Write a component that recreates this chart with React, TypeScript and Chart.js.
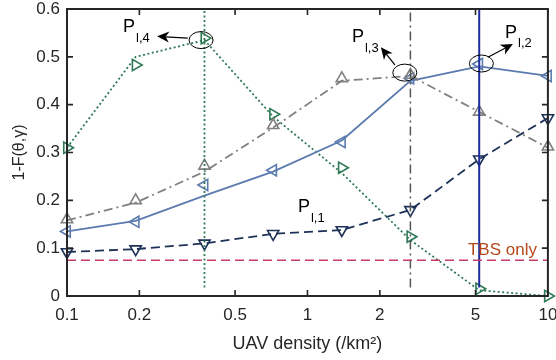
import React, { useEffect, useRef } from "react";
import { Chart, registerables } from "chart.js";
Chart.register(...registerables);

// ---------- data ----------
const densities = [0.1, 0.193, 0.373, 0.72, 1.39, 2.68, 5.18, 10];
const xTickValues = [0.1, 0.2, 0.5, 1, 2, 5, 10];
const yTickValues = [0, 0.1, 0.2, 0.3, 0.4, 0.5, 0.6];

const pl1Values = [0.092, 0.098, 0.11, 0.13, 0.138, 0.18, 0.286, 0.372];
const pl2Line = [0.135, 0.157, 0.21, 0.26, 0.325, 0.45, 0.48, 0.46];
const pl2Marks = [0.135, 0.155, 0.232, 0.263, 0.322, 0.455, 0.485, 0.46];
const pl3Line = [0.158, 0.195, 0.26, 0.352, 0.45, 0.46, 0.385, 0.31];
const pl3Marks = [0.16, 0.2, 0.272, 0.357, 0.455, 0.462, 0.385, 0.312];
const pl4Line = [0.31, 0.5, 0.535, 0.375, 0.257, 0.117, 0.012, 0.0];
const pl4Marks = [0.31, 0.483, 0.539, 0.38, 0.268, 0.124, 0.015, 0.0];

const tbsOnlyLevel = 0.075;
const optimumX = [0.373, 2.68, 5.18]; // green, gray, navy vertical lines
const optimumRange = [0.018, 0.6];

// annotation anchors (data coordinates)
const ellipseCenters = [
  { x: 0.361, y: 0.535 },
  { x: 2.54, y: 0.467 },
  { x: 5.29, y: 0.486 },
];
const arrowFrom = [
  { x: 0.318, y: 0.539 },
  { x: 2.31, y: 0.483 },
  { x: 5.63, y: 0.499 },
];
const arrowTo = [
  { x: 0.237, y: 0.543 },
  { x: 2.02, y: 0.52 },
  { x: 7.15, y: 0.527 },
];
const labelSubs = ["l,4", "l,3", "l,2", "l,1"];
const labelAnchors = [
  { x: 0.171, y: 0.562 },
  { x: 1.531, y: 0.541 },
  { x: 6.63, y: 0.55 },
  { x: 0.913, y: 0.186 },
];
const tbsText = "TBS only";
const tbsAnchor = { x: 4.65, y: 0.096 };

// ---------- styles ----------
const FONT = "'Liberation Sans', Arial, Helvetica, sans-serif";
const AXIS = "#262626";
const GREEN = "#2F7A55";
const GRAY = "#808080";
const GRAY_DARK = "#555555";
const BLUE = "#5B7AAE";
const NAVY = "#1E3158";
const NAVY_V = "#1C2C9C";
const RED = "#C83C64";
const BROWN = "#B5471B";

const pts = (ys: number[]) => densities.map((d, i) => ({ x: d, y: ys[i] }));

const lineDs = (ys: number[], color: string, dash: number[]) => ({
  data: pts(ys),
  borderColor: color,
  borderWidth: 1.8,
  borderDash: dash,
  pointRadius: 0,
  fill: false,
  tension: 0,
  clip: false as any,
});

const markDs = (ys: number[], color: string, rot: number) => ({
  data: pts(ys),
  showLine: false,
  pointStyle: "triangle",
  pointRotation: rot,
  pointRadius: 6.5,
  pointBorderColor: color,
  pointBackgroundColor: "rgba(0,0,0,0)",
  pointBorderWidth: 1.6,
  borderColor: color,
  clip: false as any,
});

const annotPlugin = {
  id: "annot",
  afterDatasetsDraw(chart: any) {
    const { ctx, scales } = chart;
    const xs = scales.x;
    const ys = scales.y;
    const px = (v: number) => xs.getPixelForValue(v);
    const py = (v: number) => ys.getPixelForValue(v);
    ctx.save();
    ctx.strokeStyle = "#000";
    ctx.lineWidth = 1;
    ellipseCenters.forEach((e) => {
      ctx.beginPath();
      ctx.ellipse(px(e.x), py(e.y), 12, 8.5, 0, 0, Math.PI * 2);
      ctx.stroke();
    });
    arrowFrom.forEach((f, i) => {
      const t = arrowTo[i];
      const x0 = px(f.x), y0 = py(f.y), x1 = px(t.x), y1 = py(t.y);
      const ang = Math.atan2(y1 - y0, x1 - x0);
      const L = 12, W = 5.5, N = 3.5;
      const bx = x1 - L * Math.cos(ang), by = y1 - L * Math.sin(ang);
      ctx.beginPath();
      ctx.moveTo(x0, y0);
      ctx.lineTo(x1 - (L - N) * Math.cos(ang), y1 - (L - N) * Math.sin(ang));
      ctx.strokeStyle = "#000";
      ctx.lineWidth = 1.2;
      ctx.stroke();
      ctx.beginPath();
      ctx.moveTo(x1, y1);
      ctx.lineTo(bx + W * Math.sin(ang), by - W * Math.cos(ang));
      ctx.lineTo(x1 - (L - N) * Math.cos(ang), y1 - (L - N) * Math.sin(ang));
      ctx.lineTo(bx - W * Math.sin(ang), by + W * Math.cos(ang));
      ctx.closePath();
      ctx.fillStyle = "#000";
      ctx.fill();
    });
    ctx.fillStyle = "#000";
    ctx.textBaseline = "middle";
    ctx.textAlign = "left";
    labelAnchors.forEach((a, i) => {
      const x = px(a.x), y = py(a.y);
      ctx.font = `18px ${FONT}`;
      ctx.fillText("P", x, y);
      const w = ctx.measureText("P").width;
      ctx.font = `13px ${FONT}`;
      ctx.fillText(labelSubs[i], x + w + 1, y + 11);
    });
    ctx.font = `17px ${FONT}`;
    ctx.fillStyle = BROWN;
    ctx.fillText(tbsText, px(tbsAnchor.x), py(tbsAnchor.y));
    ctx.restore();
  },
  afterDraw(chart: any) {
    const { ctx, chartArea, scales } = chart;
    const { left, right, top, bottom } = chartArea;
    const T = 6;
    ctx.save();
    ctx.strokeStyle = AXIS;
    ctx.lineWidth = 1.6;
    ctx.beginPath();
    xTickValues.forEach((v) => {
      const x = scales.x.getPixelForValue(v);
      ctx.moveTo(x, bottom);
      ctx.lineTo(x, bottom - T);
      ctx.moveTo(x, top);
      ctx.lineTo(x, top + T);
    });
    yTickValues.forEach((v) => {
      const y = scales.y.getPixelForValue(v);
      ctx.moveTo(left, y);
      ctx.lineTo(left + T, y);
      ctx.moveTo(right, y);
      ctx.lineTo(right - T, y);
    });
    ctx.stroke();
    ctx.lineWidth = 2;
    ctx.strokeRect(left, top, right - left, bottom - top);
    ctx.restore();
  },
};

export default function App() {
  const ref = useRef<HTMLCanvasElement | null>(null);
  useEffect(() => {
    if (!ref.current) return;
    const vLine = (xv: number, color: string, dash: number[], width: number) => ({
      data: [
        { x: xv, y: optimumRange[0] },
        { x: xv, y: optimumRange[1] },
      ],
      borderColor: color,
      borderWidth: width,
      borderDash: dash,
      pointRadius: 0,
      fill: false,
      clip: false as any,
    });
    const chart = new Chart(ref.current, {
      type: "line",
      data: {
        datasets: [
          {
            data: [
              { x: xTickValues[0], y: tbsOnlyLevel },
              { x: xTickValues[xTickValues.length - 1], y: tbsOnlyLevel },
            ],
            borderColor: RED,
            borderWidth: 1.5,
            borderDash: [9, 5],
            pointRadius: 0,
            fill: false,
          },
          vLine(optimumX[0], GREEN, [2, 2.5], 1.8),
          vLine(optimumX[1], GRAY_DARK, [9, 4, 2, 4], 1.5),
          vLine(optimumX[2], NAVY_V, [], 2),
          lineDs(pl1Values, NAVY, [9, 5]),
          markDs(pl1Values, NAVY, 180),
          lineDs(pl3Line, GRAY, [9, 4, 2, 4]),
          markDs(pl3Marks, GRAY, 0),
          lineDs(pl2Line, BLUE, []),
          markDs(pl2Marks, BLUE, 270),
          lineDs(pl4Line, GREEN, [2, 2.5]),
          markDs(pl4Marks, GREEN, 90),
        ] as any,
      },
      options: {
        responsive: false,
        animation: false,
        layout: { padding: { top: 9, right: 8, left: 0, bottom: 0 } },
        plugins: { legend: { display: false }, tooltip: { enabled: false } },
        scales: {
          x: {
            type: "logarithmic",
            min: 0.1,
            max: 10,
            grid: { display: false, drawTicks: false },
            border: { display: false },
            ticks: {
              font: { family: FONT, size: 17 },
              color: AXIS,
              padding: 9,
              maxRotation: 0,
              autoSkip: false,
              callback: (v: any) => String(v),
            },
            afterBuildTicks: (s: any) => {
              s.ticks = xTickValues.map((v) => ({ value: v }));
            },
            afterFit: (s: any) => {
              s.height = 64;
              s.paddingLeft = 0;
              s.paddingRight = 0;
            },
            title: {
              display: true,
              text: "UAV density (/km²)",
              font: { family: FONT, size: 18 },
              color: AXIS,
              padding: { top: 0, bottom: 5 },
            },
          },
          y: {
            type: "linear",
            min: 0,
            max: 0.6,
            grid: { display: false, drawTicks: false },
            border: { display: false },
            ticks: {
              font: { family: FONT, size: 17 },
              color: AXIS,
              padding: 7,
              callback: (v: any) => String(Math.round(v * 10) / 10),
            },
            afterBuildTicks: (s: any) => {
              s.ticks = yTickValues.map((v) => ({ value: v }));
            },
            afterFit: (s: any) => {
              s.width = 67;
              s.paddingTop = 0;
              s.paddingBottom = 0;
            },
            title: {
              display: true,
              text: "1-F(θ,γ)",
              font: { family: FONT, size: 16 },
              color: AXIS,
              padding: { top: 10, bottom: 0 },
            },
          },
        },
      } as any,
      plugins: [annotPlugin],
    });
    return () => chart.destroy();
  }, []);
  return (
    <div style={{ position: "absolute", left: 0, top: 0, width: 556, height: 360, background: "#fff" }}>
      <canvas ref={ref} width={556} height={360} style={{ width: 556, height: 360 }} />
    </div>
  );
}
